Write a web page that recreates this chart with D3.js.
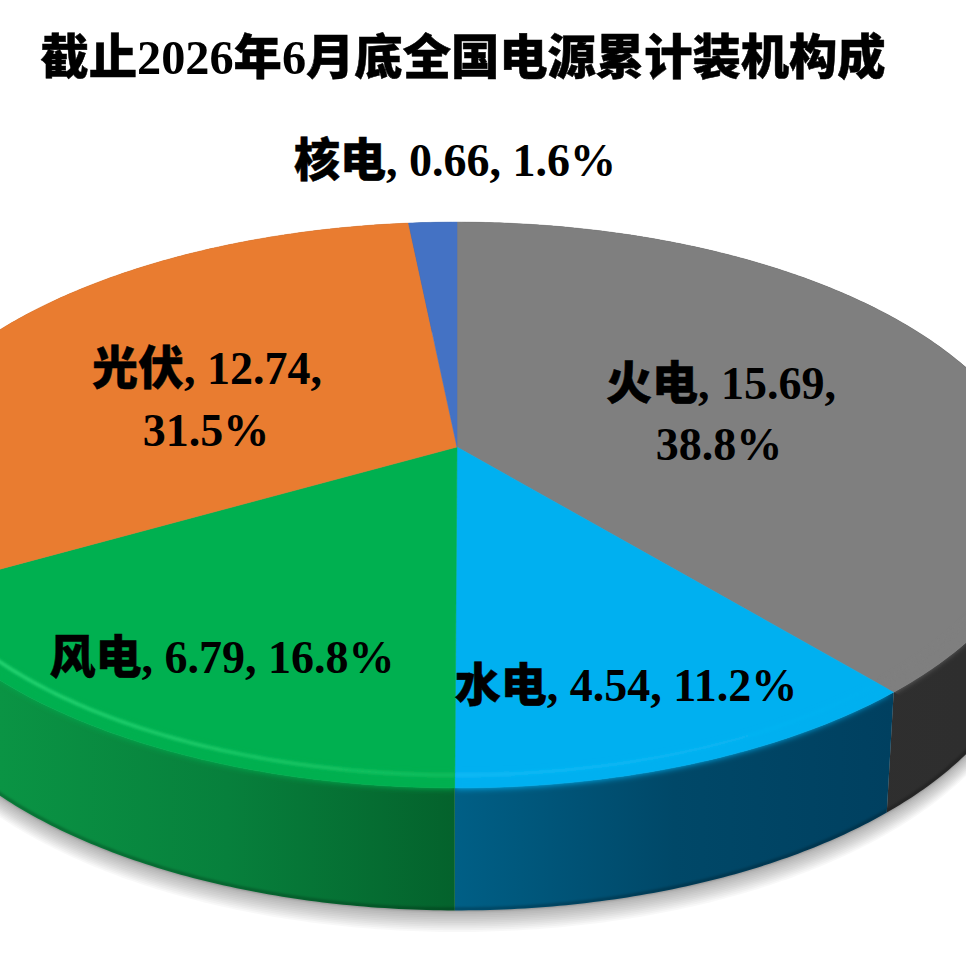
<!DOCTYPE html>
<html>
<head>
<meta charset="utf-8">
<script src="https://cdn.jsdelivr.net/npm/d3@7"></script>
<style>
  html, body { margin: 0; padding: 0; background: #fff; overflow: hidden; }
  svg { display: block; }
  text { font-family: "Liberation Serif", "Noto Sans CJK SC", serif; font-weight: bold; fill: #000; }
  .cjk { font-family: "Noto Sans CJK SC", sans-serif; font-weight: 900; stroke: #000; stroke-width: 0.5px; }
</style>
</head>
<body>
<div id="chart"></div>
<script>
const titleParts = ["截止", "2026", "年", "6", "月底全国电源累计装机构成"];
const names = ["火电", "水电", "风电", "光伏", "核电"];
const values = [15.69, 4.54, 6.79, 12.74, 0.66];
const percents = ["38.8%", "11.2%", "16.8%", "31.5%", "1.6%"];
const faceColors = ["#7f7f7f", "#00b0f0", "#00b050", "#e97c30", "#4472c4"];
const rimColors = [["#7f7f7f", "#7f7f7f"], ["#14bcf6", "#00b0f0"], ["#2adb78", "#14c05f"], ["#e97c30", "#e97c30"], ["#4472c4", "#4472c4"]];
const wallColors = [
	["#333333", "#303030", "#2e2e2e"],
	["#005f86", "#004868", "#004060"],
	["#0a9444", "#07803c", "#04622c"],
	["#8a4a1c", "#8a4a1c", "#8a4a1c"],
	["#28446f", "#28446f", "#28446f"]
];

const width = 966, height = 964;

// perspective of the disc, top face and underside
const cx = 457, k = 0.205;
const topFace = {cy: 447, a: 570, b: 271};
const bottomFace = {cy: 562, a: 561, b: 277};

function project(level, angle, r = 1) {
	const x = r * Math.sin(angle), y = -r * Math.cos(angle), w = 1 - k * y;
	return [cx + level.a * x / w, level.cy + level.b * y / w];
}

function arcPoints(level, start, end, r = 1) {
	const n = Math.max(2, Math.ceil((end - start) / 0.01));
	return d3.range(n + 1).map(i => project(level, start + (end - start) * i / n, r));
}

function blurFilter(id, dev) {
	defs.append("filter").attr("id", id)
		.attr("filterUnits", "userSpaceOnUse")
		.attr("x", -300).attr("y", 0).attr("width", 1600).attr("height", 1200)
		.append("feGaussianBlur").attr("stdDeviation", dev);
}

const line = d3.line();
const slices = d3.pie().sort(null)(values);

const svg = d3.select("#chart").append("svg")
	.attr("width", width)
	.attr("height", height);

const defs = svg.append("defs");
blurFilter("blurRim", 3);
blurFilter("blurEdge", 1.4);

// gradients run left to right across the visible part of each slice
function xGradient(id, d, stops) {
	const xs = arcPoints(topFace, d.startAngle, d.endAngle).map(p => p[0]);
	const grad = defs.append("linearGradient")
		.attr("id", id)
		.attr("gradientUnits", "userSpaceOnUse")
		.attr("x1", Math.max(0, d3.min(xs))).attr("y1", 0)
		.attr("x2", Math.min(width, d3.max(xs))).attr("y2", 0);
	stops.forEach((c, j) => {
		grad.append("stop").attr("offset", j / (stops.length - 1)).attr("stop-color", c);
	});
}

slices.forEach((d, i) => {
	xGradient(`wall${i}`, d, wallColors[i]);
	xGradient(`rim${i}`, d, rimColors[i]);
});

// soft shadow under the disc: stacked faint copies, fading downwards
const shadow = svg.append("g");
d3.range(1, 13).forEach(i => {
	shadow.append("path")
		.attr("d", line(arcPoints(bottomFace, 0, 2 * Math.PI)) + "Z")
		.attr("transform", `translate(0,${i * 1.8})`)
		.attr("fill", "#000")
		.attr("fill-opacity", 0.028);
});

// side walls
const walls = svg.append("g");
slices.forEach((d, i) => {
	const upper = arcPoints(topFace, d.startAngle, d.endAngle);
	const lower = arcPoints(bottomFace, d.startAngle, d.endAngle).reverse();
	walls.append("path")
		.attr("d", line(upper.concat(lower)) + "Z")
		.attr("fill", `url(#wall${i})`);
});

// dark line along the lower edge of the wall
walls.append("path")
	.attr("d", line(arcPoints(bottomFace, Math.PI / 2, 3 * Math.PI / 2, 0.997)))
	.attr("fill", "none")
	.attr("stroke", "#000")
	.attr("stroke-opacity", 0.4)
	.attr("stroke-width", 2)
	.attr("filter", "url(#blurEdge)");

// top face
const faces = svg.append("g");
slices.forEach((d, i) => {
	const centre = project(topFace, 0, 0);
	defs.append("clipPath").attr("id", `wedge${i}`)
		.append("path").attr("d", line([centre]
			.concat(arcPoints(topFace, d.startAngle, d.endAngle, 1.3))) + "Z");
	faces.append("path")
		.attr("d", line([centre].concat(arcPoints(topFace, d.startAngle, d.endAngle))) + "Z")
		.attr("fill", faceColors[i])
		.attr("stroke", faceColors[i])
		.attr("stroke-width", 0.5);
});

// rounded front edge: colour runs over the wall, then a lighter highlight
const bevels = svg.append("g");
slices.forEach((d, i) => {
	const start = Math.max(d.startAngle, Math.PI / 2 + 0.15);
	const end = Math.min(d.endAngle, 3 * Math.PI / 2);
	if (end <= start) return;
	const g = bevels.append("g").attr("clip-path", `url(#wedge${i})`);
	g.append("path")
		.attr("d", line(arcPoints(topFace, start, end, 0.985)))
		.attr("fill", "none")
		.attr("stroke", faceColors[i])
		.attr("stroke-width", 14)
		.attr("filter", "url(#blurRim)");
	g.append("path")
		.attr("d", line(arcPoints(topFace, start, end, 0.97)))
		.attr("fill", "none")
		.attr("stroke", `url(#rim${i})`)
		.attr("stroke-width", 3)
		.attr("filter", "url(#blurEdge)");
});

// mixed CJK / Latin text: CJK runs get the heavier face
function addRuns(sel, parts) {
	parts.forEach(p => {
		sel.append("tspan")
			.attr("class", /[\u4e00-\u9fff]/.test(p) ? "cjk" : null)
			.text(p);
	});
}

svg.append("text")
	.attr("x", 463).attr("y", 74)
	.attr("text-anchor", "middle")
	.style("font-size", "48.3px")
	.call(addRuns, titleParts);

// label anchors: [x, baseline] for each line; a second entry means the percent wraps
const labelLayout = [
	[[721, 399], [719, 460]],
	[[626, 701]],
	[[222, 673]],
	[[207, 384], [206, 446]],
	[[455, 176]]
];

names.forEach((name, i) => {
	const lay = labelLayout[i];
	const first = lay.length > 1
		? [name, `, ${values[i]},`]
		: [name, `, ${values[i]}, ${percents[i]}`];
	svg.append("text")
		.attr("x", lay[0][0]).attr("y", lay[0][1])
		.attr("text-anchor", "middle")
		.style("font-size", "46px")
		.call(addRuns, first);
	if (lay.length > 1) {
		svg.append("text")
			.attr("x", lay[1][0]).attr("y", lay[1][1])
			.attr("text-anchor", "middle")
			.style("font-size", "46px")
			.text(percents[i]);
	}
});
</script>
</body>
</html>
